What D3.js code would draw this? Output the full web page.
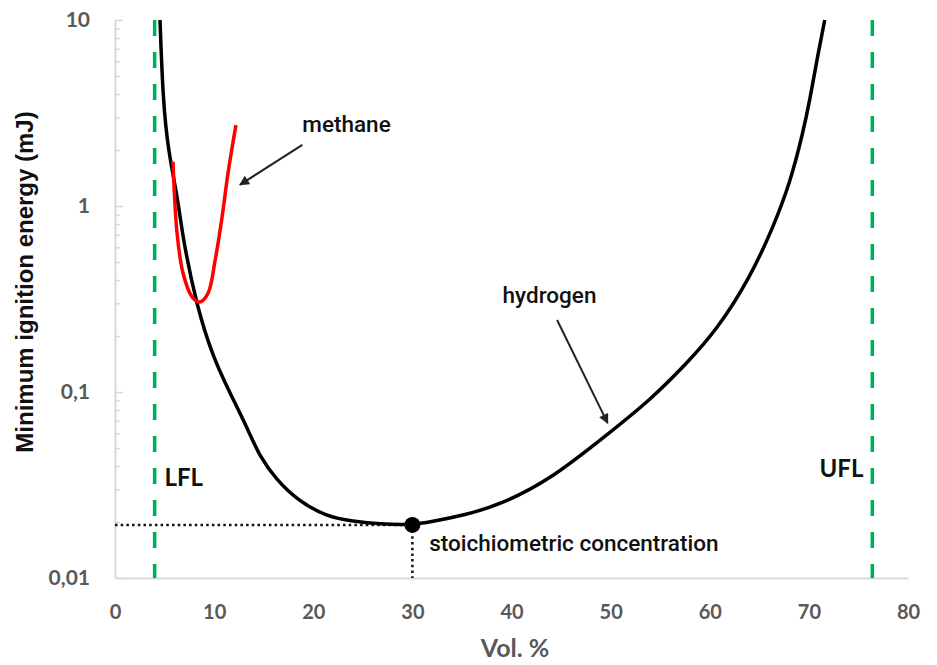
<!DOCTYPE html>
<html>
<head>
<meta charset="utf-8">
<script src="https://cdn.jsdelivr.net/npm/d3@7"></script>
<style>
  body { margin: 0; background: #fff; }
</style>
</head>
<body>
<div id="chart"></div>
<script>
// hydrogen curve (vol. %, mJ)
const h2Vol = [4.54, 4.84, 5.35, 6.36, 6.86, 8.27, 9.89, 11.6, 13.3, 14.6, 16.3, 18.4, 21.4, 24.0, 26.7, 30.0, 31.8, 35.3, 38.8, 43.9, 49.6, 54.0, 57.7, 60.7, 64.1, 66.4, 68.1, 69.4, 70.1, 70.9, 71.6]
const h2Mie = [10, 3.72, 2.0, 1.08, 0.66, 0.286, 0.154, 0.0988, 0.0649, 0.0448, 0.0337, 0.0262, 0.0213, 0.0202, 0.0195, 0.0193, 0.0200, 0.0218, 0.0247, 0.0337, 0.0587, 0.0905, 0.143, 0.215, 0.415, 0.77, 1.33, 2.47, 3.72, 6.49, 10]

// methane curve
const ch4Vol = [5.85, 6.26, 6.86, 7.77, 8.58, 9.39, 10.1, 10.8, 11.4, 12.2]
const ch4Mie = [1.73, 0.716, 0.436, 0.325, 0.305, 0.34, 0.51, 0.87, 1.50, 2.72]

const xTicks = [0, 10, 20, 30, 40, 50, 60, 70, 80]
const yTicks = [0.01, 0.1, 1, 10]
const yTickLabels = ["0,01", "0,1", "1", "10"]

const LFL = 4
const UFL = 76.4
const stoichVol = 30
const stoichMie = 0.0193

const width = 937
const height = 665
const margin = {top: 20, right: 29, bottom: 87, left: 115}

const svg = d3.select("#chart")
  .append("svg")
  .attr("width", width)
  .attr("height", height)

const x = d3.scaleLinear()
  .domain([0, 80])
  .range([margin.left, width - margin.right])

const y = d3.scaleLog()
  .domain([0.01, 10])
  .range([height - margin.bottom, margin.top])

const axisGrey = "#d9d9d9"
const labelGrey = "#595959"

// minor log ticks on y
const minorTicks = []
for (let d = 0.01; d < 10; d *= 10) {
  for (let k = 2; k <= 9; k++) minorTicks.push(+(d * k).toPrecision(3))
}

svg.append("g")
  .attr("transform", `translate(${margin.left},0)`)
  .call(d3.axisLeft(y).tickValues(minorTicks).tickSizeInner(-5).tickSizeOuter(0).tickFormat(""))
  .call(g => g.select(".domain").remove())
  .call(g => g.selectAll("line").attr("stroke", axisGrey).attr("stroke-width", 1.5))

const yAxis = svg.append("g")
  .attr("transform", `translate(${margin.left},0)`)
  .call(d3.axisLeft(y)
    .tickValues(yTicks)
    .tickSizeInner(-8)
    .tickSizeOuter(0)
    .tickPadding(25)
    .tickFormat((d, i) => yTickLabels[i]))
yAxis.select(".domain").attr("stroke", axisGrey).attr("stroke-width", 2)
yAxis.selectAll("line").attr("stroke", axisGrey).attr("stroke-width", 1.5)
yAxis.selectAll("text")
  .attr("fill", labelGrey)
  .style("font-family", "Lato, 'Open Sans', sans-serif")
  .style("font-weight", "bold")
  .style("font-size", "21px")

const xAxis = svg.append("g")
  .attr("transform", `translate(0,${y(0.01)})`)
  .call(d3.axisBottom(x).tickValues(xTicks).tickSize(0).tickPadding(27))
xAxis.select(".domain").attr("stroke", axisGrey).attr("stroke-width", 2)
xAxis.selectAll("text")
  .attr("fill", labelGrey)
  .style("font-family", "Lato, 'Open Sans', sans-serif")
  .style("font-weight", "bold")
  .style("font-size", "20px")

// axis titles
svg.append("text")
  .attr("x", 515)
  .attr("y", 657)
  .attr("text-anchor", "middle")
  .attr("fill", labelGrey)
  .style("font-family", "Lato, 'Open Sans', sans-serif")
  .style("font-weight", "bold")
  .style("font-size", "25px")
  .text("Vol. %")

svg.append("text")
  .attr("transform", "translate(33,282) rotate(-90)")
  .attr("text-anchor", "middle")
  .attr("fill", "#111")
  .style("font-family", "'Liberation Sans', Arial, sans-serif")
  .style("font-weight", "bold")
  .style("font-size", "24px")
  .text("Minimum ignition energy (mJ)")

// flammability limits
svg.selectAll(".limit")
  .data([LFL, UFL])
  .join("line")
    .attr("class", "limit")
    .attr("x1", d => x(d))
    .attr("x2", d => x(d))
    .attr("y1", y(10))
    .attr("y2", y(0.01))
    .attr("stroke", "#00b050")
    .attr("stroke-width", 3.5)
    .attr("stroke-dasharray", "16,16")

// stoichiometric guides
svg.append("line")
  .attr("x1", x(0)).attr("x2", x(stoichVol))
  .attr("y1", y(stoichMie)).attr("y2", y(stoichMie))
  .attr("stroke", "#111").attr("stroke-width", 2.5)
  .attr("stroke-dasharray", "2.5,3.2")
svg.append("line")
  .attr("x1", x(stoichVol)).attr("x2", x(stoichVol))
  .attr("y1", y(stoichMie)).attr("y2", y(0.01))
  .attr("stroke", "#111").attr("stroke-width", 2.5)
  .attr("stroke-dasharray", "2.5,3.2")

const h2Line = d3.line()
  .x(d => x(d[0]))
  .y(d => y(d[1]))
  .curve(d3.curveBasis)

const ch4Line = d3.line()
  .x(d => x(d[0]))
  .y(d => y(d[1]))
  .curve(d3.curveCatmullRom.alpha(0.5))

svg.append("path")
  .datum(h2Vol.map((v, i) => [v, h2Mie[i]]))
  .attr("d", h2Line)
  .attr("fill", "none")
  .attr("stroke", "#000")
  .attr("stroke-width", 3.5)

svg.append("path")
  .datum(ch4Vol.map((v, i) => [v, ch4Mie[i]]))
  .attr("d", ch4Line)
  .attr("fill", "none")
  .attr("stroke", "#ff0000")
  .attr("stroke-width", 3.5)

svg.append("circle")
  .attr("cx", x(stoichVol))
  .attr("cy", y(stoichMie))
  .attr("r", 8)
  .attr("fill", "#000")

// arrows
svg.append("defs").append("marker")
  .attr("id", "head")
  .attr("viewBox", "0 0 10 10")
  .attr("refX", 9)
  .attr("refY", 5)
  .attr("markerWidth", 11)
  .attr("markerHeight", 10)
  .attr("markerUnits", "userSpaceOnUse")
  .attr("orient", "auto")
  .append("path")
    .attr("d", "M0,0L10,5L0,10z")
    .attr("fill", "#222")

const arrows = [
  {from: [18.9, 2.13], to: [12.6, 1.30]},
  {from: [44.6, 0.244], to: [49.7, 0.068]}
]
svg.selectAll(".arrow")
  .data(arrows)
  .join("line")
    .attr("class", "arrow")
    .attr("x1", d => x(d.from[0]))
    .attr("y1", d => y(d.from[1]))
    .attr("x2", d => x(d.to[0]))
    .attr("y2", d => y(d.to[1]))
    .attr("stroke", "#222")
    .attr("stroke-width", 2)
    .attr("marker-end", "url(#head)")

// labels
const notes = [
  {text: "methane", vol: 18.9, mie: 2.5, anchor: "start", size: 22.5, font: "Roboto, sans-serif", weight: 500},
  {text: "hydrogen", vol: 39.1, mie: 0.30, anchor: "start", size: 22.5, font: "Roboto, sans-serif", weight: 500},
  {text: "stoichiometric concentration", vol: 31.7, mie: 0.014, anchor: "start", size: 22.5, font: "Roboto, sans-serif", weight: 500},
  {text: "LFL", vol: 5.0, mie: 0.0313, anchor: "start", size: 24, font: "Lato, sans-serif", weight: "bold"},
  {text: "UFL", vol: 75.5, mie: 0.0349, anchor: "end", size: 24, font: "Lato, sans-serif", weight: "bold"}
]
svg.selectAll(".note")
  .data(notes)
  .join("text")
    .attr("class", "note")
    .attr("x", d => x(d.vol))
    .attr("y", d => y(d.mie))
    .attr("text-anchor", d => d.anchor)
    .attr("fill", "#111")
    .style("font-family", d => d.font)
    .style("font-weight", d => d.weight)
    .style("font-size", d => d.size + "px")
    .text(d => d.text)
</script>
</body>
</html>
